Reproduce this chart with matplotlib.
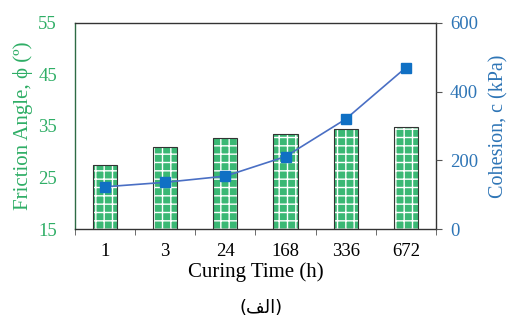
import matplotlib
matplotlib.use("Agg")
import matplotlib.pyplot as plt
import numpy as np

categories = ["1", "3", "24", "168", "336", "672"]
friction_angle = [27.4, 31.0, 32.7, 33.4, 34.5, 34.9]
cohesion = [123, 136, 154, 211, 320, 470]
left_ticks = [15, 25, 35, 45, 55]
right_ticks = [0, 200, 400, 600]

plt.rcParams['font.family'] = ['Liberation Serif', 'DejaVu Serif']
plt.rcParams['hatch.linewidth'] = 1.0
green = '#2fae66'
blue = '#2e75b6'

fig = plt.figure(figsize=(5.11, 3.22), dpi=100)
ax = fig.add_axes([0.1468, 0.2888, 0.853 - 0.1468, 0.9286 - 0.2888])
x = np.arange(len(categories))

ax.bar(x, np.array(friction_angle) - 15, bottom=15, width=0.4, color='#3ab874',
       edgecolor='white', hatch='++', linewidth=0, zorder=2)
ax.bar(x, np.array(friction_angle) - 15, bottom=15, width=0.4, fill=False,
       edgecolor='#333333', linewidth=0.8, zorder=3)
ax.set_ylim(15, 55)
ax.set_yticks(left_ticks)
ax.set_xlim(-0.5, len(categories) - 0.5)
ax.set_xticks(x)
ax.set_xticklabels(categories, fontsize=13.5)
ax.set_xticks(np.arange(len(categories) + 1) - 0.5, minor=True)
ax.tick_params(axis='x', which='major', length=0, pad=10)
ax.tick_params(axis='x', which='minor', length=4, direction='out', color='#555555')
ax.tick_params(axis='y', colors=green, labelsize=13.5, length=0, pad=13)
ax.set_ylabel('Friction Angle, ϕ (º)', color=green, fontsize=15, labelpad=4)
ax.set_xlabel('Curing Time (h)', fontsize=15, labelpad=2)
for s in ['left', 'top', 'bottom', 'right']:
    ax.spines[s].set_color('#333333')
    ax.spines[s].set_linewidth(1.0)
ax.spines['left'].set_color('#2e6b45')

ax2 = ax.twinx()
ax2.plot(x, cohesion, color='#4a6fc4', linewidth=1.2, marker='s', markersize=7,
         markerfacecolor='#1070c4', markeredgecolor='#1070c4', zorder=5)
ax2.set_ylim(0, 600)
ax2.set_yticks(right_ticks)
ax2.tick_params(axis='y', colors=blue, labelsize=13.5, length=4, direction='out', pad=6)
ax2.tick_params(axis='y', color='#555555')
ax2.set_ylabel('Cohesion, c (kPa)', color=blue, fontsize=14.5, labelpad=8)
for s in ['left', 'top', 'bottom', 'right']:
    ax2.spines[s].set_visible(False)

# "(الف)" written in shaped presentation forms (visual order) since matplotlib does not shape Arabic
fig.text(0.51, 0.045, '(\uFED2\uFEDF\uFE8D)', ha='center', va='center', fontsize=13,
         family=['DejaVu Sans'])

fig.savefig('out.png', dpi=100)
